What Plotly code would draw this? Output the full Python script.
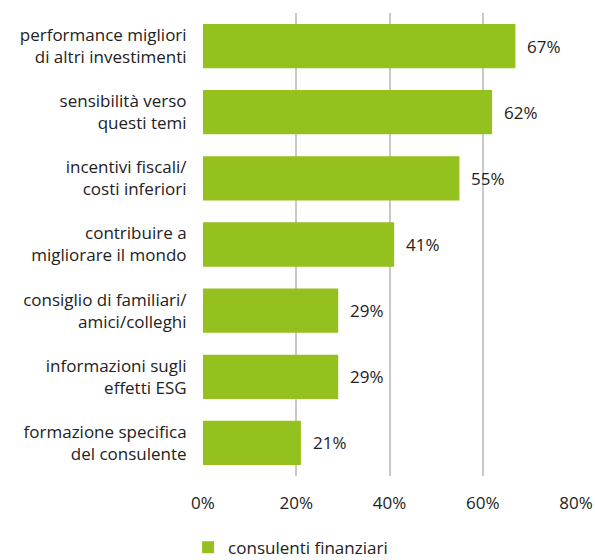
import plotly.graph_objects as go

categories = [
    "performance migliori<br>di altri investimenti",
    "sensibilità verso<br>questi temi",
    "incentivi fiscali/<br>costi inferiori",
    "contribuire a<br>migliorare il mondo",
    "consiglio di familiari/<br>amici/colleghi",
    "informazioni sugli<br>effetti ESG",
    "formazione specifica<br>del consulente",
]
values = [67, 62, 55, 41, 29, 29, 21]
series_name = "consulenti finanziari"
tick_vals = [0, 20, 40, 60, 80]
tick_text = ["0%", "20%", "40%", "60%", "80%"]

green = "#95C11F"
font_family = "Open Sans, DejaVu Sans, sans-serif"
fsize = 17

fig = go.Figure()
fig.add_trace(go.Bar(
    y=categories,
    x=values,
    orientation="h",
    marker=dict(color=green, line=dict(width=0)),
    name=series_name,
    showlegend=True,
))

for c, v in zip(categories, values):
    fig.add_annotation(
        x=v, y=c, text=f"{v}%", showarrow=False,
        xanchor="left", xshift=10,
        font=dict(family=font_family, size=fsize, color="#222"),
    )

fig.update_layout(
    width=595, height=560,
    margin=dict(l=203, r=19, t=13, b=84, autoexpand=False),
    paper_bgcolor="white", plot_bgcolor="white",
    bargap=0.33,
    font=dict(family=font_family, size=fsize, color="#222"),
    legend=dict(
        orientation="h", x=-0.04, xanchor="left",
        y=-0.155, yanchor="middle",
        font=dict(size=fsize, family=font_family, color="#222"),
        itemwidth=30,
    ),
)
fig.update_xaxes(
    range=[0, 80], tickvals=tick_vals, ticktext=tick_text,
    showgrid=True, gridcolor="#c8c8c8", gridwidth=1.5,
    zeroline=False, showline=False, automargin=False,
    ticks="outside", ticklen=12, tickcolor="rgba(0,0,0,0)",
    tickfont=dict(size=fsize, family=font_family, color="#222"),
    fixedrange=True,
)
fig.update_yaxes(
    autorange="reversed", automargin=False,
    showgrid=False, zeroline=False, showline=False,
    ticks="outside", ticklen=12, tickcolor="rgba(0,0,0,0)",
    tickfont=dict(size=fsize, family=font_family, color="#222"),
)

fig.write_html("out.html")
